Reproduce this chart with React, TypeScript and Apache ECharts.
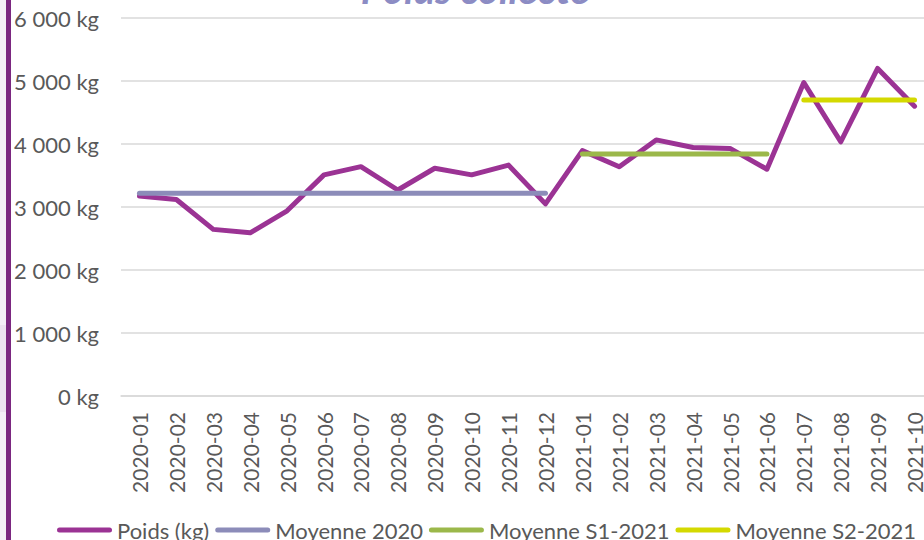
import React, { useEffect, useRef } from "react";
import * as echarts from "echarts";

const categories = [
  "2020-01", "2020-02", "2020-03", "2020-04", "2020-05", "2020-06",
  "2020-07", "2020-08", "2020-09", "2020-10", "2020-11", "2020-12",
  "2021-01", "2021-02", "2021-03", "2021-04", "2021-05", "2021-06",
  "2021-07", "2021-08", "2021-09", "2021-10",
];
const poids = [
  3175, 3120, 2645, 2590, 2940, 3510, 3640, 3270, 3615, 3510, 3665, 3050,
  3895, 3640, 4065, 3945, 3930, 3600, 4975, 4035, 5200, 4600,
];
const moyenne2020 = 3220;
const moyenneS1_2021 = 3840;
const moyenneS2_2021 = 4700;
const periode2020 = ["2020-01", "2020-12"];
const periodeS1 = ["2021-01", "2021-06"];
const periodeS2 = ["2021-07", "2021-10"];

const seriesNames = ["Poids (kg)", "Moyenne 2020", "Moyenne S1-2021", "Moyenne S2-2021"];
const colors = ["#9B3394", "#8C8CB9", "#9BB84A", "#D4D900"];

function flatOver(range: string[], value: number) {
  const a = categories.indexOf(range[0]);
  const b = categories.indexOf(range[1]);
  return categories.map((_, i) => (i >= a && i <= b ? value : null));
}

const FONT = "Lato";
const TEXT = "#595959";
const capsule =
  "path://M2.5,0 H52.5 A2.5,2.5 0 0 1 52.5,5 H2.5 A2.5,2.5 0 0 1 2.5,0 Z";

export default function App() {
  const ref = useRef<HTMLDivElement>(null);
  useEffect(() => {
    if (!ref.current) return;
    const chart = echarts.init(ref.current, null, { renderer: "svg" });
    const lineSeries = (name: string, data: (number | null)[], color: string, z: number) => ({
      name,
      type: "line",
      data,
      symbol: "none",
      showSymbol: false,
      connectNulls: false,
      z,
      itemStyle: { color },
      lineStyle: { color, width: 5, cap: "round", join: "round" },
      emphasis: { disabled: true },
    });
    chart.setOption({
      animation: false,
      backgroundColor: "#ffffff",
      textStyle: { fontFamily: FONT },
      graphic: [
        { type: "rect", shape: { x: 0, y: 0, width: 6, height: 540 }, style: { fill: "#F4EFF6" }, silent: true },
        { type: "rect", shape: { x: 0, y: 325, width: 6, height: 87 }, style: { fill: "#ECE2EF" }, silent: true },
        { type: "rect", shape: { x: 6, y: 0, width: 5, height: 540 }, style: { fill: "#7B2780" }, silent: true },
        {
          type: "text",
          x: 475,
          y: 9,
          style: {
            text: "Poids collecté",
            fill: "#8C8CC4",
            font: "italic bold 40px " + FONT,
            textAlign: "center",
            textVerticalAlign: "bottom",
          },
          silent: true,
        },
      ],
      grid: {
        left: 121,
        top: 18,
        width: 812,
        height: 378,
        containLabel: false,
        outerBoundsMode: "none",
      },
      legend: {
        left: 57,
        top: 519,
        padding: 0,
        itemWidth: 55,
        itemHeight: 5,
        itemGap: 6,
        icon: capsule,
        data: seriesNames,
        textStyle: { color: TEXT, fontSize: 22, fontFamily: FONT },
      },
      xAxis: {
        type: "category",
        data: categories,
        boundaryGap: true,
        axisLine: { lineStyle: { color: "#D9D9D9", width: 1.5 } },
        axisTick: { show: false },
        axisLabel: {
          rotate: 90,
          interval: 0,
          margin: 16,
          color: TEXT,
          fontSize: 21,
          fontFamily: FONT,
        },
      },
      yAxis: {
        type: "value",
        min: 0,
        max: 6000,
        interval: 1000,
        axisLine: { show: false },
        axisTick: { show: false },
        splitLine: { lineStyle: { color: "#D9D9D9", width: 1.5 } },
        axisLabel: {
          margin: 22,
          color: TEXT,
          fontSize: 22,
          fontFamily: FONT,
          formatter: (v: number) =>
            String(v).replace(/\B(?=(\d{3})+(?!\d))/g, " ") + " kg",
        },
      },
      series: [
        lineSeries(seriesNames[1], flatOver(periode2020, moyenne2020), colors[1], 2),
        lineSeries(seriesNames[2], flatOver(periodeS1, moyenneS1_2021), colors[2], 2),
        lineSeries(seriesNames[3], flatOver(periodeS2, moyenneS2_2021), colors[3], 2),
        lineSeries(seriesNames[0], poids, colors[0], 1),
      ],
    });
    return () => chart.dispose();
  }, []);
  return (
    <div
      ref={ref}
      style={{ position: "fixed", left: 0, top: 0, width: 924, height: 540 }}
    />
  );
}
